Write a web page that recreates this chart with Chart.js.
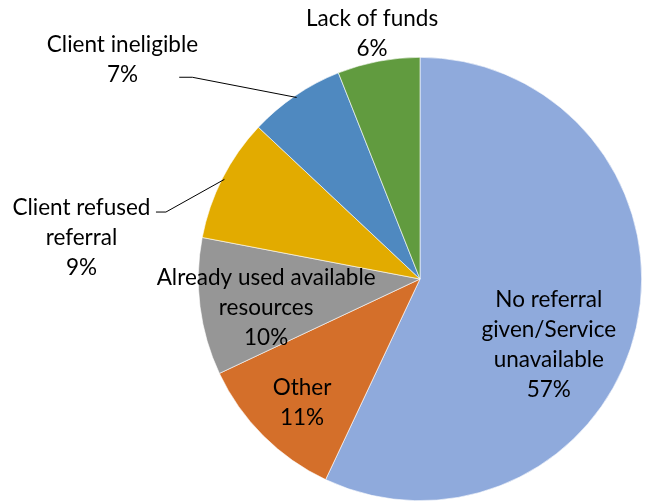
<!DOCTYPE html>
<html>
<head>
<meta charset="utf-8">
<script src="https://cdn.jsdelivr.net/npm/chart.js@4/dist/chart.umd.min.js"></script>
<style>
html,body{margin:0;padding:0;background:#fff;}
#wrap{width:645px;height:501px;position:relative;}
</style>
</head>
<body>
<div id="wrap"><canvas id="c" width="645" height="501"></canvas></div>
<script>
const categories = [
  ["No referral", "given/Service", "unavailable"],
  ["Other"],
  ["Already used available", "resources"],
  ["Client refused", "referral"],
  ["Client ineligible"],
  ["Lack of funds"]
];
const values = [57, 11, 10, 9, 7, 6];
const percentLabels = ["57%", "11%", "10%", "9%", "7%", "6%"];
const colors = ["#8FAADC", "#D46F2A", "#969696", "#E2AB00", "#4F89C0", "#619B3F"];

// label layout (relative to pie center, in units of radius) and leader lines
const labelLayout = [
  {dx: 0.581, dy: 0.297},
  {dx: -0.532, dy: 0.559},
  {dx: -0.694, dy: 0.131},
  {dx: -1.527, dy: -0.185, line: {sx: -1.191, sy: -0.302, hx: -1.146}},
  {dx: -1.342, dy: -0.991, line: {sx: -1.086, sy: -0.910, hx: -1.027}},
  {dx: -0.216, dy: -1.108}
];

const FONT = '22.5px Lato, "Open Sans", sans-serif';
const LINE_H = 30;

const labelPlugin = {
  id: 'pieLabels',
  afterDatasetsDraw(chart) {
    const ctx = chart.ctx;
    const meta = chart.getDatasetMeta(0);
    const arc0 = meta.data[0];
    const cx = arc0.x, cy = arc0.y, R = arc0.outerRadius;
    ctx.save();
    ctx.font = FONT;
    ctx.fillStyle = '#000';
    ctx.textAlign = 'center';
    ctx.textBaseline = 'middle';
    meta.data.forEach((arc, i) => {
      const lay = labelLayout[i];
      const lines = categories[i].concat([percentLabels[i]]);
      const x = cx + lay.dx * R;
      const y0 = cy + lay.dy * R - (lines.length - 1) * LINE_H / 2;
      lines.forEach((t, k) => ctx.fillText(t, x, y0 + k * LINE_H));
      if (lay.line) {
        const mid = (arc.startAngle + arc.endAngle) / 2;
        const ex = cx + Math.cos(mid) * R * 0.99;
        const ey = cy + Math.sin(mid) * R * 0.99;
        ctx.strokeStyle = '#000';
        ctx.lineWidth = 1;
        ctx.beginPath();
        ctx.moveTo(cx + lay.line.sx * R, cy + lay.line.sy * R);
        ctx.lineTo(cx + lay.line.hx * R, cy + lay.line.sy * R);
        ctx.lineTo(ex, ey);
        ctx.stroke();
      }
    });
    ctx.restore();
  }
};

new Chart(document.getElementById('c'), {
  type: 'pie',
  data: {
    labels: categories.map(c => c.join(' ')),
    datasets: [{
      data: values,
      backgroundColor: colors,
      borderColor: '#ffffff',
      borderWidth: 0.6
    }]
  },
  options: {
    responsive: false,
    animation: false,
    rotation: 0,
    layout: {padding: {left: 198, right: 3, top: 57, bottom: 0}},
    plugins: {legend: {display: false}, tooltip: {enabled: false}}
  },
  plugins: [labelPlugin]
});
</script>
</body>
</html>
